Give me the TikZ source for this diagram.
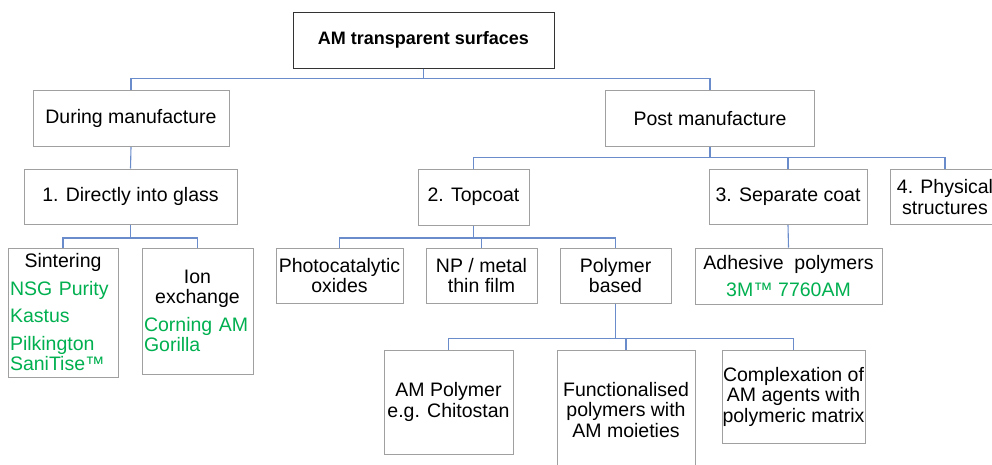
\documentclass[tikz,border=0pt]{standalone}
\usepackage{fontspec}
\setmainfont{Liberation Sans}
\usepackage{tikz}
\usetikzlibrary{positioning}
\definecolor{linkblue}{HTML}{6A8CCB}
\definecolor{boxgray}{HTML}{A0A0A0}
\definecolor{brandgreen}{HTML}{00B050}
\newcommand{\brand}[1]{\textcolor{brandgreen}{#1}}

\begin{document}
\begin{tikzpicture}[x=1pt,y=-1pt,font=\fontsize{19.5}{20.5}\selectfont]
\tikzset{box/.style={draw=boxgray,line width=1pt,fill=white,align=center,inner sep=2pt},
  conn/.style={draw=linkblue,line width=1.1pt}}
\useasboundingbox (0,0) rectangle (992,464);
% level 0 and 1
\node[box,draw=black!80,minimum width=261pt,minimum height=56pt,font=\fontsize{18}{20}\selectfont\bfseries] (root) at (423.5,40) {AM transparent surfaces};
\node[box,minimum width=196pt,minimum height=56pt] (during) at (131,118.7) {During manufacture};
\node[box,minimum width=209pt,minimum height=56pt] (post) at (710,118.7) {Post manufacture};
% level 2
\node[box,minimum width=213pt,minimum height=55pt] (directly) at (130.5,196.5) {1. Directly into glass};
\node[box,minimum width=111pt,minimum height=56pt] (topcoat) at (473.5,197) {2. Topcoat};
\node[box,minimum width=158pt,minimum height=55pt] (sepcoat) at (788,197) {3. Separate coat};
\node[box,minimum width=110pt,minimum height=55pt] (physical) at (945,197) {4. Physical\\structures};
% level 3
\node[box,text width=106pt,align=left,minimum height=129pt] (sinter) at (63,312.5)
  {\makebox[106pt]{Sintering}\\[7pt]\brand{NSG Purity}\\[7pt]\brand{Kastus}\\[7pt]\brand{Pilkington}\\\brand{SaniTise™}};
\node[box,text width=107pt,align=left,minimum height=126pt] (ion) at (197.5,311)
  {\makebox[107pt]{Ion}\\\makebox[107pt]{exchange}\\[7pt]\brand{Corning AM}\\\brand{Gorilla}};
\node[box,minimum width=127pt,minimum height=55pt] (photo) at (339.5,275.5) {Photocatalytic\\oxides};
\node[box,minimum width=111pt,minimum height=55pt] (np) at (481.5,275.5) {NP / metal\\thin film};
\node[box,minimum width=111pt,minimum height=55pt] (polybased) at (615.5,275.5) {Polymer\\based};
\node[box,minimum width=187pt,minimum height=56pt] (adhesive) at (788.5,276) {Adhesive\ \ polymers\\[7pt]\brand{3M™ 7760AM}};
% level 4
\node[box,minimum width=129pt,minimum height=104pt] (ampoly) at (448.5,402) {AM Polymer\\e.g. Chitostan};
\node[box,minimum width=138pt,minimum height=120pt] (func) at (626,410) {Functionalised\\polymers with\\AM moieties};
\node[box,minimum width=143pt,minimum height=93pt,inner sep=0pt] (complex) at (793.5,396.5) {Complexation of\\AM agents with\\polymeric matrix};
% connectors
\foreach \child in {during,post}
  \draw[conn] (root.south) -- ++(0,10) -| (\child.north);
\draw[conn] (during.south) -- (directly.north);
\foreach \child in {topcoat,sepcoat,physical}
  \draw[conn] (post.south) -- ++(0,10.5) -| (\child.north);
\foreach \child in {sinter,ion}
  \draw[conn] (directly.south) -- ++(0,13.5) -| (\child.north);
\foreach \child in {photo,np,polybased}
  \draw[conn] (topcoat.south) -- ++(0,12.5) -| (\child.north);
\draw[conn] (sepcoat.south) -- (adhesive.north);
\foreach \child in {ampoly,func,complex}
  \draw[conn] (polybased.south) -- ++(0,35) -| (\child.north);
\end{tikzpicture}
\end{document}
